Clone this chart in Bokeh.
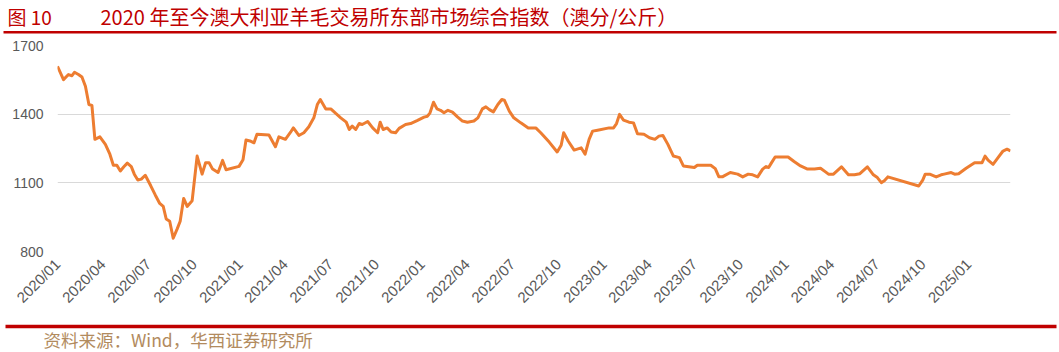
import math
import pandas as pd
from bokeh.plotting import figure
from bokeh.layouts import column
from bokeh.models import (FixedTicker, DatetimeTickFormatter, Range1d, Label,
                          BoxAnnotation, ColumnDataSource)
from bokeh.embed import file_html
from bokeh.resources import INLINE

# ---------------- data ----------------
dates = [
    "2020-01-01", "2020-01-13", "2020-01-23", "2020-01-30", "2020-02-04", "2020-02-12",
    "2020-02-19", "2020-02-26", "2020-03-04", "2020-03-10", "2020-03-16", "2020-03-26",
    "2020-04-06", "2020-04-15", "2020-04-22", "2020-04-29", "2020-05-06", "2020-05-13",
    "2020-05-20", "2020-05-28", "2020-06-03", "2020-06-10", "2020-06-17", "2020-06-25",
    "2020-07-06", "2020-07-15", "2020-07-24", "2020-07-31", "2020-08-06", "2020-08-13",
    "2020-08-20", "2020-08-28", "2020-09-03", "2020-09-10", "2020-09-17", "2020-09-27",
    "2020-10-07", "2020-10-17", "2020-10-24", "2020-10-31", "2020-11-07", "2020-11-18",
    "2020-11-27", "2020-12-04", "2020-12-30",
    "2021-01-07", "2021-01-13", "2021-01-21", "2021-01-29", "2021-02-04", "2021-02-28",
    "2021-03-13", "2021-03-20", "2021-04-02", "2021-04-12", "2021-04-18", "2021-04-29",
    "2021-05-09", "2021-05-19", "2021-05-29", "2021-06-05", "2021-06-11", "2021-06-22",
    "2021-07-02", "2021-07-12", "2021-07-22", "2021-08-02", "2021-08-08", "2021-08-14",
    "2021-08-21", "2021-08-28", "2021-09-03", "2021-09-14", "2021-09-24", "2021-10-04",
    "2021-10-09", "2021-10-15", "2021-10-23", "2021-10-31", "2021-11-09", "2021-11-16",
    "2021-11-29", "2021-12-09", "2021-12-22",
    "2022-01-05", "2022-01-12", "2022-01-17", "2022-01-24", "2022-01-31", "2022-02-07",
    "2022-02-14", "2022-02-22", "2022-03-03", "2022-03-13", "2022-03-23", "2022-04-02",
    "2022-04-15", "2022-04-23", "2022-05-02", "2022-05-09", "2022-05-16", "2022-05-24",
    "2022-06-02", "2022-06-10", "2022-06-15", "2022-06-25", "2022-07-04", "2022-07-18",
    "2022-08-02", "2022-08-17", "2022-08-27", "2022-09-13", "2022-09-29", "2022-10-07",
    "2022-10-12", "2022-10-21", "2022-11-02", "2022-11-16", "2022-11-24", "2022-12-02",
    "2022-12-09", "2022-12-19",
    "2023-01-11", "2023-01-20", "2023-01-26", "2023-02-01", "2023-02-09", "2023-02-20",
    "2023-03-01", "2023-03-09", "2023-03-22", "2023-04-02", "2023-04-13", "2023-04-21",
    "2023-04-29", "2023-05-09", "2023-05-20", "2023-06-01", "2023-06-09", "2023-07-01",
    "2023-07-07", "2023-08-03", "2023-08-12", "2023-08-19", "2023-08-27", "2023-09-11",
    "2023-09-26", "2023-10-06", "2023-10-17", "2023-10-26", "2023-11-05", "2023-11-15",
    "2023-11-22", "2023-11-27", "2023-12-02", "2023-12-10",
    "2024-01-05", "2024-01-17", "2024-01-30", "2024-02-13", "2024-02-27", "2024-03-10",
    "2024-03-20", "2024-03-26", "2024-04-05", "2024-04-21", "2024-05-05", "2024-05-17",
    "2024-05-28", "2024-06-12", "2024-06-24", "2024-07-02", "2024-07-10", "2024-07-16",
    "2024-07-23", "2024-09-23", "2024-10-01", "2024-10-06", "2024-10-15", "2024-10-28",
    "2024-11-07", "2024-11-13", "2024-11-27", "2024-12-04", "2024-12-12", "2024-12-27",
    "2025-01-13", "2025-01-28", "2025-02-03", "2025-02-09", "2025-02-19", "2025-03-01",
    "2025-03-11", "2025-03-19", "2025-03-26",
]

values = [
    1609, 1551, 1573, 1568, 1583, 1573,
    1562, 1522, 1442, 1438, 1290, 1301,
    1268, 1225, 1177, 1177, 1152, 1170,
    1186, 1171, 1138, 1112, 1116, 1133,
    1087, 1047, 1010, 997, 942, 932,
    858, 899, 932, 1032, 997, 1022,
    1217, 1138, 1188, 1188, 1160, 1145,
    1198, 1157, 1172,
    1201, 1287, 1283, 1275, 1312, 1309,
    1258, 1301, 1290, 1320, 1340, 1307,
    1319, 1345, 1384, 1442, 1464, 1423,
    1423, 1403, 1384, 1365, 1333, 1348,
    1333, 1359, 1355, 1368, 1340, 1319,
    1365, 1333, 1340, 1322, 1319, 1338,
    1355, 1359, 1372,
    1387, 1391, 1406, 1452, 1423, 1417,
    1406, 1417, 1409, 1388, 1370, 1365,
    1370, 1384, 1423, 1432, 1420, 1410,
    1442, 1464, 1461, 1413, 1384, 1362,
    1340, 1340, 1319, 1278, 1235, 1264,
    1319, 1283, 1243, 1253, 1225, 1290,
    1326, 1330,
    1340, 1340, 1359, 1399, 1374, 1365,
    1362, 1314, 1312, 1297, 1290, 1304,
    1307, 1268, 1217, 1210, 1174, 1167,
    1177, 1177, 1162, 1127, 1127, 1145,
    1138, 1126, 1138, 1135, 1126, 1160,
    1171, 1167, 1185, 1213,
    1213, 1193, 1174, 1160, 1160, 1164,
    1148, 1138, 1138, 1170, 1135, 1135,
    1140, 1170, 1135, 1123, 1101, 1109,
    1126, 1086, 1112, 1138, 1138, 1126,
    1135, 1138, 1145, 1138, 1140, 1164,
    1188, 1188, 1217, 1199, 1181, 1210,
    1239, 1247, 1239,
]

x_tick_labels = [
    "2020/01", "2020/04", "2020/07", "2020/10",
    "2021/01", "2021/04", "2021/07", "2021/10",
    "2022/01", "2022/04", "2022/07", "2022/10",
    "2023/01", "2023/04", "2023/07", "2023/10",
    "2024/01", "2024/04", "2024/07", "2024/10",
    "2025/01",
]
y_ticks = [800, 1100, 1400, 1700]

title_num = "图 10"
title_text = "2020 年至今澳大利亚羊毛交易所东部市场综合指数（澳分/公斤）"
source_text = "资料来源：Wind，华西证券研究所"

RED = "#C00000"
W = 1059


def no_align(f):
    try:
        f.frame_align = False
    except Exception:
        pass


def blank(height):
    f = figure(width=W, height=height, x_range=Range1d(0, 1), y_range=Range1d(0, 1),
               x_axis_location=None, y_axis_location=None,
               output_backend="svg", toolbar_location=None,
               min_border=0, min_border_left=0, min_border_right=0,
               min_border_top=0, min_border_bottom=0)
    f.grid.visible = False
    f.outline_line_color = None
    f.background_fill_color = "white"
    f.border_fill_color = "white"
    no_align(f)
    return f


def hband(f, left, right, top, bottom):
    f.add_layout(BoxAnnotation(left=left, right=right, top=top, bottom=bottom,
                               left_units="screen", right_units="screen",
                               top_units="screen", bottom_units="screen",
                               fill_color=RED, fill_alpha=1, line_color=None))


# ---------------- header ----------------
HEAD_H = 34
head = blank(HEAD_H)
head.add_layout(Label(x=7, y=HEAD_H - 16, x_units="screen", y_units="screen", text=title_num,
                      text_font="Noto Sans CJK SC", text_font_size="19px",
                      text_color=RED, text_baseline="alphabetic"))
head.add_layout(Label(x=100, y=HEAD_H - 16, x_units="screen", y_units="screen", text=title_text,
                      text_font="Noto Sans CJK SC", text_font_size="20px",
                      text_color=RED, text_baseline="alphabetic"))
hband(head, 3, 1056, HEAD_H - 30.5, HEAD_H - 33)

# ---------------- main chart ----------------
MAIN_H = 284
x = pd.to_datetime(dates)
src = ColumnDataSource(dict(x=x, y=values))
tick_ms = [pd.Timestamp(t.replace("/", "-") + "-01").timestamp() * 1000 for t in x_tick_labels]

p = figure(width=W, height=MAIN_H, x_axis_type="datetime",
           x_range=Range1d(x[0], x[-1]), y_range=Range1d(y_ticks[0], y_ticks[-1]),
           output_backend="svg", toolbar_location=None,
           min_border_left=57, min_border_right=49,
           min_border_top=45 - HEAD_H, min_border_bottom=MAIN_H - (251 - HEAD_H))
no_align(p)

p.background_fill_color = "white"
p.border_fill_color = "white"
p.outline_line_color = None

p.line("x", "y", source=src, line_color="#ED7D31", line_width=3, line_join="round")

p.yaxis.ticker = FixedTicker(ticks=y_ticks)
p.xaxis.ticker = FixedTicker(ticks=tick_ms)
p.xaxis.formatter = DatetimeTickFormatter(days="%Y/%m", months="%Y/%m", years="%Y/%m")
for ax in (p.xaxis[0], p.yaxis[0]):
    ax.axis_line_color = None
    ax.major_tick_line_color = None
    ax.minor_tick_line_color = None
    ax.major_tick_out = 0
    ax.major_tick_in = 0
    ax.minor_tick_out = 0
    ax.major_label_text_font = "Liberation Sans"
    ax.major_label_text_color = "#595959"
p.yaxis.major_label_text_font_size = "14px"
p.yaxis.major_label_standoff = 14
p.xaxis.major_label_text_font_size = "15px"
p.xaxis.major_label_orientation = math.pi / 4
p.xaxis.major_label_standoff = 10

p.xgrid.grid_line_color = None
p.ygrid.grid_line_color = "#D9D9D9"
p.ygrid.grid_line_width = 1

# ---------------- footer ----------------
FOOT_H = 352 - HEAD_H - MAIN_H
foot = blank(FOOT_H)
foot_top = HEAD_H + MAIN_H
hband(foot, 5, 1056, FOOT_H - (324.3 - foot_top), FOOT_H - (327.7 - foot_top))
foot.add_layout(Label(x=43, y=FOOT_H - (339 - foot_top), x_units="screen", y_units="screen",
                      text=source_text, text_font="Noto Sans CJK SC", text_font_size="17.5px",
                      text_color="#B28B5E", text_baseline="alphabetic"))

layout = column(head, p, foot, spacing=0)
open("out.html", "w").write(file_html(layout, INLINE))
